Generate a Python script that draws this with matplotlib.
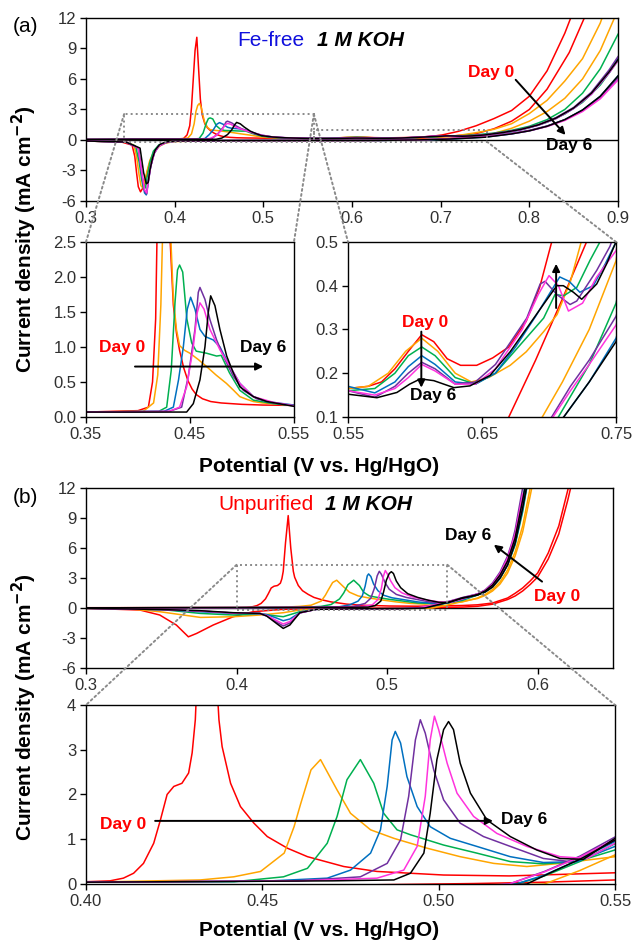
import matplotlib.pyplot as plt
from matplotlib.patches import Rectangle, ConnectionPatch
from matplotlib.ticker import FormatStrFormatter, MultipleLocator

plt.rcParams['font.family'] = ['Liberation Sans', 'DejaVu Sans']
plt.rcParams['axes.unicode_minus'] = False

day_names = ['Day 0', 'Day 1', 'Day 2', 'Day 3', 'Day 4', 'Day 5', 'Day 6']
day_colors = ['#FF0000', '#FFA500', '#00B050', '#0070C0', '#7030A0', '#FF33DD', '#000000']

# ---- (a) Fe-free 1 M KOH: (potential V, current mA cm-2)
ff_an_d0 = [(0.30, 0.05), (0.35, 0.07), (0.40, 0.09), (0.410, 0.14), (0.414, 0.5), (0.417, 1.4),
            (0.419, 3.2), (0.421, 6.0), (0.423, 8.8), (0.425, 10.1), (0.427, 7.0), (0.429, 4.0),
            (0.431, 2.5), (0.434, 1.6), (0.437, 1.2), (0.440, 0.95), (0.444, 0.7), (0.448, 0.52),
            (0.452, 0.4), (0.456, 0.32), (0.462, 0.26), (0.470, 0.22), (0.480, 0.2), (0.50, 0.18),
            (0.52, 0.17), (0.55, 0.165), (0.565, 0.17), (0.575, 0.18), (0.585, 0.21), (0.595, 0.25),
            (0.605, 0.288), (0.614, 0.272), (0.624, 0.233), (0.634, 0.218), (0.646, 0.218),
            (0.658, 0.235), (0.670, 0.26), (0.683, 0.319), (0.693, 0.396), (0.702, 0.5), (0.72, 0.85),
            (0.74, 1.4), (0.76, 2.1), (0.78, 2.9), (0.80, 4.3), (0.82, 6.8), (0.84, 10.5), (0.86, 15.0)]
ff_ca_d0 = [(0.87, 14.2), (0.862, 12.0), (0.845, 8.6), (0.82, 5.0), (0.80, 3.0), (0.78, 1.85),
            (0.76, 1.1), (0.74, 0.63), (0.728, 0.5), (0.71, 0.37), (0.69, 0.23), (0.67, 0.1),
            (0.655, 0.0), (0.62, -0.04), (0.58, -0.05), (0.50, -0.06), (0.42, -0.08), (0.395, -0.15),
            (0.385, -0.4), (0.378, -1.0), (0.372, -2.2), (0.368, -3.5), (0.365, -4.6), (0.3615, -5.1),
            (0.359, -4.6), (0.357, -3.2), (0.355, -1.6), (0.352, -0.5), (0.34, -0.2), (0.30, -0.1)]

ff_an_d1 = [(0.30, 0.05), (0.35, 0.07), (0.405, 0.08), (0.415, 0.2), (0.419, 0.6), (0.422, 1.6),
            (0.424, 2.8), (0.426, 3.4), (0.428, 3.6), (0.430, 3.2), (0.432, 2.4), (0.434, 1.7),
            (0.437, 1.25), (0.440, 1.02), (0.445, 0.95), (0.450, 0.91), (0.458, 0.82), (0.466, 0.72),
            (0.475, 0.6), (0.485, 0.48), (0.492, 0.38), (0.498, 0.29), (0.505, 0.25), (0.511, 0.22),
            (0.52, 0.2), (0.55, 0.165), (0.565, 0.17), (0.58, 0.2), (0.593, 0.25), (0.605, 0.28),
            (0.617, 0.25), (0.63, 0.2), (0.642, 0.18), (0.655, 0.19), (0.671, 0.218), (0.683, 0.249),
            (0.696, 0.295), (0.706, 0.334), (0.716, 0.41), (0.724, 0.5), (0.74, 0.72), (0.76, 1.05),
            (0.78, 1.6), (0.80, 2.6), (0.82, 3.9), (0.84, 5.8), (0.86, 8.0), (0.88, 11.5), (0.90, 16.5)]
ff_ca_d1 = [(0.90, 13.0), (0.896, 12.0), (0.88, 8.8), (0.86, 6.0), (0.84, 4.1), (0.82, 2.8),
            (0.80, 1.85), (0.78, 1.15), (0.76, 0.65), (0.75, 0.457), (0.73, 0.3), (0.71, 0.18),
            (0.695, 0.1), (0.68, 0.04), (0.66, 0.0), (0.62, -0.03), (0.55, -0.05), (0.45, -0.07),
            (0.40, -0.15), (0.39, -0.3), (0.383, -0.6), (0.377, -1.1), (0.372, -2.0), (0.369, -3.0),
            (0.366, -4.2), (0.364, -4.7), (0.362, -4.5), (0.360, -3.5), (0.357, -1.6), (0.354, -0.5),
            (0.345, -0.2), (0.30, -0.1)]

ff_an_d2 = [(0.30, 0.05), (0.35, 0.07), (0.42, 0.08), (0.4276, 0.14), (0.432, 0.67), (0.4356, 1.63),
            (0.438, 2.1), (0.440, 2.17), (0.443, 2.07), (0.447, 1.4), (0.4516, 1.06), (0.456, 0.94),
            (0.466, 0.91), (0.4756, 0.87), (0.48, 0.88), (0.488, 0.63), (0.498, 0.38), (0.511, 0.24),
            (0.53, 0.19), (0.55, 0.16), (0.57, 0.165), (0.585, 0.2), (0.595, 0.24), (0.605, 0.26),
            (0.615, 0.24), (0.63, 0.19), (0.645, 0.175), (0.66, 0.2), (0.68, 0.27), (0.696, 0.326),
            (0.7045, 0.38), (0.711, 0.377), (0.7207, 0.396), (0.7306, 0.458), (0.738, 0.5), (0.76, 0.68),
            (0.78, 0.95), (0.80, 1.35), (0.82, 2.0), (0.84, 3.0), (0.86, 4.6), (0.88, 7.0), (0.90, 10.4)]
ff_ca_d2 = [(0.90, 7.8), (0.88, 5.4), (0.86, 3.7), (0.84, 2.55), (0.82, 1.75), (0.80, 1.2), (0.78, 0.8),
            (0.76, 0.5), (0.75, 0.36), (0.73, 0.22), (0.707, 0.1), (0.69, 0.04), (0.67, 0.0),
            (0.63, -0.04), (0.55, -0.05), (0.45, -0.06), (0.40, -0.12), (0.39, -0.25), (0.382, -0.5),
            (0.376, -1.1), (0.372, -2.2), (0.369, -3.6), (0.367, -4.7), (0.365, -4.8), (0.363, -4.0),
            (0.360, -2.2), (0.356, -0.6), (0.345, -0.2), (0.30, -0.1)]

ff_an_d3 = [(0.30, 0.05), (0.35, 0.07), (0.425, 0.08), (0.434, 0.14), (0.439, 0.53), (0.4436, 1.0),
            (0.4474, 1.54), (0.4506, 1.71), (0.4548, 1.54), (0.4596, 1.25), (0.4644, 1.15),
            (0.4724, 1.1), (0.4788, 1.0), (0.4885, 0.72), (0.498, 0.48), (0.511, 0.29), (0.524, 0.22),
            (0.55, 0.17), (0.57, 0.155), (0.585, 0.18), (0.595, 0.215), (0.605, 0.24), (0.615, 0.22),
            (0.63, 0.18), (0.645, 0.175), (0.66, 0.2), (0.675, 0.26), (0.69, 0.33), (0.70, 0.38),
            (0.708, 0.42), (0.715, 0.41), (0.723, 0.385), (0.733, 0.4), (0.742, 0.45), (0.75, 0.5),
            (0.77, 0.7), (0.79, 1.0), (0.81, 1.45), (0.83, 2.1), (0.85, 3.1), (0.87, 4.5), (0.89, 6.6),
            (0.90, 8.0)]
ff_ca_d3 = [(0.90, 6.3), (0.88, 4.3), (0.86, 2.95), (0.84, 2.0), (0.82, 1.35), (0.80, 0.9), (0.78, 0.6),
            (0.76, 0.38), (0.75, 0.28), (0.73, 0.18), (0.711, 0.1), (0.69, 0.04), (0.67, 0.0),
            (0.63, -0.04), (0.55, -0.05), (0.45, -0.06), (0.40, -0.12), (0.39, -0.25), (0.382, -0.6),
            (0.377, -1.3), (0.373, -2.6), (0.370, -4.2), (0.368, -5.4), (0.366, -5.2), (0.363, -3.5),
            (0.359, -0.8), (0.345, -0.2), (0.30, -0.1)]

ff_an_d4 = [(0.30, 0.05), (0.35, 0.07), (0.43, 0.08), (0.442, 0.14), (0.4484, 0.58), (0.4548, 1.25),
            (0.458, 1.78), (0.4596, 1.85), (0.4644, 1.68), (0.4692, 1.39), (0.4756, 1.1),
            (0.4837, 0.82), (0.4917, 0.58), (0.5013, 0.38), (0.514, 0.26), (0.53, 0.2), (0.55, 0.16),
            (0.57, 0.145), (0.585, 0.17), (0.595, 0.2), (0.605, 0.225), (0.615, 0.21), (0.63, 0.175),
            (0.645, 0.18), (0.66, 0.22), (0.6834, 0.326), (0.6934, 0.404), (0.697, 0.41),
            (0.7058, 0.38), (0.7157, 0.357), (0.7207, 0.365), (0.7356, 0.435), (0.7455, 0.49),
            (0.75, 0.53), (0.77, 0.75), (0.79, 1.05), (0.81, 1.5), (0.83, 2.2), (0.85, 3.2), (0.87, 4.7),
            (0.89, 6.9), (0.90, 8.2)]
ff_ca_d4 = [(0.90, 6.1), (0.88, 4.2), (0.86, 2.9), (0.84, 2.0), (0.82, 1.38), (0.80, 0.95), (0.78, 0.65),
            (0.76, 0.43), (0.75, 0.33), (0.73, 0.23), (0.716, 0.17), (0.702, 0.1), (0.685, 0.04),
            (0.665, 0.0), (0.63, -0.04), (0.55, -0.05), (0.45, -0.06), (0.40, -0.12), (0.39, -0.25),
            (0.382, -0.6), (0.377, -1.3), (0.373, -2.6), (0.370, -4.3), (0.3685, -5.3), (0.366, -5.0),
            (0.363, -3.3), (0.359, -0.8), (0.345, -0.2), (0.30, -0.1)]

ff_an_d5 = [(0.30, 0.05), (0.35, 0.07), (0.43, 0.08), (0.44, 0.14), (0.4468, 0.43), (0.4532, 1.0),
            (0.457, 1.49), (0.4596, 1.63), (0.4635, 1.54), (0.4692, 1.25), (0.4788, 0.96),
            (0.4885, 0.72), (0.498, 0.48), (0.511, 0.29), (0.53, 0.21), (0.55, 0.16), (0.57, 0.15),
            (0.585, 0.165), (0.595, 0.19), (0.605, 0.22), (0.615, 0.205), (0.63, 0.175), (0.645, 0.175),
            (0.66, 0.21), (0.68, 0.3), (0.692, 0.38), (0.70, 0.423), (0.707, 0.4), (0.7145, 0.342),
            (0.725, 0.36), (0.7356, 0.42), (0.75, 0.48), (0.77, 0.72), (0.79, 1.0), (0.81, 1.45),
            (0.83, 2.1), (0.85, 3.1), (0.87, 4.5), (0.89, 6.6), (0.90, 7.8)]
ff_ca_d5 = [(0.90, 5.9), (0.88, 4.05), (0.86, 2.8), (0.84, 1.92), (0.82, 1.32), (0.80, 0.9), (0.78, 0.62),
            (0.76, 0.41), (0.75, 0.31), (0.73, 0.22), (0.716, 0.16), (0.703, 0.1), (0.685, 0.04),
            (0.665, 0.0), (0.63, -0.04), (0.55, -0.05), (0.45, -0.06), (0.40, -0.12), (0.39, -0.25),
            (0.382, -0.6), (0.377, -1.3), (0.373, -2.6), (0.370, -4.2), (0.3685, -5.2), (0.366, -4.9),
            (0.363, -3.2), (0.359, -0.8), (0.345, -0.2), (0.30, -0.1)]

ff_an_d6 = [(0.30, 0.05), (0.35, 0.07), (0.44, 0.07), (0.4468, 0.07), (0.4532, 0.19), (0.4596, 0.53),
            (0.4644, 1.0), (0.4676, 1.49), (0.4699, 1.73), (0.474, 1.59), (0.4788, 1.25),
            (0.4853, 0.87), (0.4917, 0.63), (0.498, 0.43), (0.511, 0.29), (0.524, 0.22), (0.55, 0.152),
            (0.5716, 0.144), (0.5865, 0.156), (0.596, 0.175), (0.604, 0.187), (0.614, 0.183),
            (0.629, 0.167), (0.641, 0.171), (0.656, 0.195), (0.671, 0.249), (0.6834, 0.303),
            (0.6958, 0.357), (0.7058, 0.4), (0.7107, 0.4), (0.7182, 0.385), (0.7244, 0.369),
            (0.7356, 0.404), (0.743, 0.45), (0.75, 0.5), (0.77, 0.73), (0.79, 1.03), (0.81, 1.48),
            (0.83, 2.15), (0.85, 3.15), (0.87, 4.6), (0.89, 6.7), (0.90, 7.9)]
ff_ca_d6 = [(0.90, 6.3), (0.88, 4.3), (0.86, 2.95), (0.84, 2.0), (0.82, 1.35), (0.80, 0.9), (0.78, 0.6),
            (0.76, 0.38), (0.75, 0.272), (0.73, 0.18), (0.711, 0.1), (0.69, 0.04), (0.67, 0.0),
            (0.63, -0.04), (0.55, -0.05), (0.45, -0.06), (0.40, -0.1), (0.39, -0.2), (0.383, -0.45),
            (0.378, -1.0), (0.375, -1.8), (0.372, -3.0), (0.370, -4.2), (0.368, -4.3), (0.365, -3.2),
            (0.361, -0.8), (0.345, -0.2), (0.30, -0.1)]

# ---- (b) Unpurified 1 M KOH
up_an_d0 = [(0.30, 0.03), (0.36, 0.04), (0.40, 0.05), (0.4068, 0.07), (0.4106, 0.13), (0.4135, 0.24),
            (0.4163, 0.46), (0.4192, 0.91), (0.4211, 1.43), (0.423, 2.0), (0.4249, 2.18), (0.4272, 2.25),
            (0.4291, 2.48), (0.4301, 2.93), (0.431, 3.67), (0.4325, 6.5), (0.4343, 9.24), (0.436, 6.0),
            (0.4377, 3.67), (0.4386, 3.07), (0.441, 2.25), (0.4438, 1.73), (0.4476, 1.36), (0.4514, 1.06),
            (0.4571, 0.8), (0.4628, 0.61), (0.4731, 0.39), (0.4825, 0.28), (0.5014, 0.2), (0.52, 0.18),
            (0.55, 0.25), (0.56, 0.32), (0.57, 0.5), (0.58, 1.0), (0.585, 1.47), (0.59, 2.0), (0.595, 2.7),
            (0.60, 3.5), (0.607, 5.5), (0.614, 8.2), (0.62, 11.8), (0.625, 15.0)]
up_ca_d0 = [(0.625, 14.0), (0.62, 10.8), (0.614, 7.4), (0.607, 4.9), (0.60, 3.1), (0.595, 2.35),
            (0.59, 1.7), (0.585, 1.2), (0.58, 0.85), (0.57, 0.38), (0.56, 0.17), (0.55, 0.09), (0.53, 0.04),
            (0.51, 0.01), (0.48, -0.02), (0.464, -0.03), (0.431, -0.13), (0.411, -0.37), (0.3978, -0.87),
            (0.3845, -1.7), (0.3735, -2.54), (0.368, -2.88), (0.36, -1.7), (0.349, -0.7), (0.3358, -0.2),
            (0.30, -0.03)]

up_an_d1 = [(0.30, 0.02), (0.40, 0.04), (0.4324, 0.09), (0.4419, 0.16), (0.4495, 0.28), (0.4562, 0.69),
            (0.459, 1.28), (0.4609, 1.8), (0.4638, 2.55), (0.4665, 2.78), (0.4712, 2.1), (0.475, 1.58),
            (0.4807, 1.21), (0.4873, 1.02), (0.4967, 0.8), (0.5061, 0.61), (0.5156, 0.46), (0.525, 0.39),
            (0.5344, 0.46), (0.55, 0.61), (0.56, 1.0), (0.565, 1.35), (0.57, 1.85), (0.575, 2.6),
            (0.58, 3.8), (0.585, 5.6), (0.59, 8.2), (0.595, 12.0), (0.60, 16.0)]
up_ca_d1 = [(0.60, 15.0), (0.595, 11.2), (0.59, 7.6), (0.585, 5.2), (0.58, 3.5), (0.575, 2.4), (0.57, 1.7),
            (0.565, 1.25), (0.56, 0.95), (0.55, 0.65), (0.54, 0.3), (0.53, 0.0), (0.51, -0.06),
            (0.48, -0.08), (0.453, -0.12), (0.442, -0.2), (0.431, -0.47), (0.4155, -0.7), (0.398, -0.87),
            (0.376, -0.94), (0.349, -0.37), (0.33, -0.1), (0.30, -0.03)]

up_an_d2 = [(0.30, 0.02), (0.40, 0.04), (0.442, 0.05), (0.456, 0.16), (0.4628, 0.35), (0.4684, 0.91),
            (0.4712, 1.51), (0.474, 2.33), (0.4778, 2.78), (0.4816, 2.25), (0.4844, 1.58), (0.4882, 1.21),
            (0.492, 1.1), (0.5014, 0.87), (0.5108, 0.69), (0.5203, 0.5), (0.5297, 0.45), (0.5392, 0.5),
            (0.55, 0.76), (0.56, 1.3), (0.565, 1.65), (0.57, 2.2), (0.575, 3.1), (0.58, 4.5), (0.585, 6.7),
            (0.59, 10.2), (0.595, 14.5)]
up_ca_d2 = [(0.595, 14.0), (0.59, 9.6), (0.585, 6.3), (0.58, 4.3), (0.575, 2.95), (0.57, 2.1), (0.565, 1.6),
            (0.56, 1.3), (0.55, 0.9), (0.54, 0.5), (0.53, 0.18), (0.522, 0.0), (0.51, -0.06), (0.48, -0.08),
            (0.453, -0.13), (0.442, -0.37), (0.431, -0.87), (0.4155, -0.6), (0.398, -0.7), (0.376, -0.54),
            (0.3535, -0.2), (0.33, -0.08), (0.30, -0.03)]

up_an_d3 = [(0.30, 0.02), (0.40, 0.04), (0.45, 0.06), (0.4684, 0.13), (0.475, 0.31), (0.4807, 0.69),
            (0.4835, 1.21), (0.4854, 2.18), (0.4868, 3.22), (0.4877, 3.41), (0.4892, 3.15), (0.491, 2.4),
            (0.4939, 1.73), (0.4976, 1.28), (0.5033, 1.02), (0.5108, 0.84), (0.5203, 0.61), (0.5297, 0.48),
            (0.5392, 0.5), (0.55, 0.84), (0.56, 1.35), (0.565, 1.7), (0.57, 2.3), (0.575, 3.3), (0.58, 4.7),
            (0.585, 7.0), (0.59, 10.8), (0.595, 15.0)]
up_ca_d3 = [(0.595, 14.0), (0.59, 9.8), (0.585, 6.4), (0.58, 4.3), (0.575, 3.0), (0.57, 2.1), (0.565, 1.6),
            (0.56, 1.3), (0.55, 0.95), (0.54, 0.55), (0.53, 0.2), (0.522, 0.0), (0.51, -0.06), (0.48, -0.08),
            (0.453, -0.13), (0.442, -0.47), (0.4354, -1.1), (0.431, -1.27), (0.4265, -1.0), (0.42, -0.65),
            (0.4155, -0.54), (0.398, -0.54), (0.376, -0.37), (0.35, -0.15), (0.30, -0.03)]

up_an_d4 = [(0.30, 0.02), (0.40, 0.04), (0.46, 0.07), (0.4778, 0.16), (0.4854, 0.46), (0.4892, 0.99),
            (0.4915, 1.96), (0.4934, 3.22), (0.4948, 3.67), (0.4962, 3.37), (0.4986, 2.55), (0.5014, 1.88),
            (0.5061, 1.36), (0.5127, 1.06), (0.5203, 0.84), (0.5297, 0.57), (0.5373, 0.5), (0.55, 0.99),
            (0.56, 1.4), (0.565, 1.8), (0.57, 2.5), (0.575, 3.6), (0.58, 5.2), (0.583, 6.6), (0.585, 7.8),
            (0.59, 12.0)]
up_ca_d4 = [(0.59, 11.0), (0.585, 7.3), (0.58, 4.8), (0.575, 3.3), (0.57, 2.3), (0.565, 1.75), (0.56, 1.4),
            (0.55, 1.05), (0.54, 0.62), (0.53, 0.28), (0.52, 0.0), (0.51, -0.06), (0.48, -0.08),
            (0.453, -0.13), (0.442, -0.5), (0.4354, -1.5), (0.431, -1.8), (0.4265, -1.4), (0.42, -0.8),
            (0.4155, -0.55), (0.398, -0.5), (0.376, -0.3), (0.35, -0.15), (0.30, -0.03)]

up_an_d5 = [(0.30, 0.02), (0.40, 0.04), (0.46, 0.07), (0.4825, 0.13), (0.4901, 0.31), (0.4939, 0.84),
            (0.4962, 1.96), (0.4976, 3.22), (0.4988, 3.75), (0.50, 3.45), (0.5024, 2.7), (0.5052, 2.03),
            (0.5099, 1.51), (0.5165, 1.13), (0.525, 0.84), (0.5344, 0.61), (0.542, 0.57), (0.55, 0.91),
            (0.56, 1.38), (0.565, 1.75), (0.57, 2.4), (0.575, 3.45), (0.58, 5.0), (0.585, 7.4), (0.59, 11.4)]
up_ca_d5 = [(0.59, 10.6), (0.585, 7.0), (0.58, 4.6), (0.575, 3.2), (0.57, 2.25), (0.565, 1.7), (0.56, 1.37),
            (0.55, 1.0), (0.54, 0.6), (0.53, 0.27), (0.52, 0.0), (0.51, -0.06), (0.48, -0.08),
            (0.453, -0.13), (0.442, -0.48), (0.4354, -1.35), (0.431, -1.6), (0.4265, -1.25), (0.42, -0.75),
            (0.4155, -0.55), (0.398, -0.5), (0.376, -0.3), (0.35, -0.15), (0.30, -0.03)]

up_an_d6 = [(0.30, 0.02), (0.40, 0.04), (0.47, 0.07), (0.4873, 0.09), (0.492, 0.24), (0.4958, 0.69),
            (0.4976, 1.58), (0.4995, 2.78), (0.5014, 3.45), (0.5028, 3.63), (0.5042, 3.45), (0.5061, 2.7),
            (0.509, 2.03), (0.5137, 1.43), (0.5203, 1.06), (0.5278, 0.76), (0.5344, 0.57), (0.541, 0.55),
            (0.55, 1.02), (0.555, 1.15), (0.56, 1.35), (0.565, 1.7), (0.57, 2.3), (0.575, 3.3), (0.58, 4.7),
            (0.585, 7.0), (0.59, 10.8), (0.595, 15.0)]
up_ca_d6 = [(0.595, 14.0), (0.59, 10.0), (0.585, 6.5), (0.58, 4.3), (0.575, 3.0), (0.57, 2.1), (0.565, 1.6),
            (0.56, 1.3), (0.55, 0.98), (0.54, 0.55), (0.533, 0.3), (0.525, 0.0), (0.51, -0.06),
            (0.48, -0.08), (0.453, -0.13), (0.442, -0.47), (0.4354, -1.7), (0.431, -2.04), (0.4265, -1.54),
            (0.42, -0.8), (0.4155, -0.54), (0.398, -0.47), (0.376, -0.27), (0.35, -0.15), (0.30, -0.03)]

ff_anodic = [ff_an_d0, ff_an_d1, ff_an_d2, ff_an_d3, ff_an_d4, ff_an_d5, ff_an_d6]
ff_cathodic = [ff_ca_d0, ff_ca_d1, ff_ca_d2, ff_ca_d3, ff_ca_d4, ff_ca_d5, ff_ca_d6]
up_anodic = [up_an_d0, up_an_d1, up_an_d2, up_an_d3, up_an_d4, up_an_d5, up_an_d6]
up_cathodic = [up_ca_d0, up_ca_d1, up_ca_d2, up_ca_d3, up_ca_d4, up_ca_d5, up_ca_d6]

tick_col = '#303030'
dot_col = '#8a8a8a'
dot_ls = (0, (1, 1.6))

fig = plt.figure(figsize=(6.36, 9.41), dpi=100)
ax_a = fig.add_axes([0.1352, 0.7864, 0.8365, 0.1945])
ax_a1 = fig.add_axes([0.1352, 0.5569, 0.3270, 0.1860])
ax_a2 = fig.add_axes([0.5472, 0.5569, 0.4214, 0.1860])
ax_b = fig.add_axes([0.1352, 0.2901, 0.8286, 0.1913])
ax_b1 = fig.add_axes([0.1352, 0.0606, 0.8318, 0.1902])


def draw_cv(ax, anodic, cathodic):
    for an, ca, c in zip(anodic, cathodic, day_colors):
        for pts in (an, ca):
            x, y = zip(*pts)
            ax.plot(x, y, color=c, lw=1.1, solid_joinstyle='round')


def style(ax, xlim, ylim, xticks, ystep, xfmt, yfmt):
    ax.set_xlim(*xlim)
    ax.set_ylim(*ylim)
    ax.set_xticks(xticks)
    ax.yaxis.set_major_locator(MultipleLocator(ystep))
    ax.xaxis.set_major_formatter(FormatStrFormatter(xfmt))
    ax.yaxis.set_major_formatter(FormatStrFormatter(yfmt))
    ax.tick_params(direction='out', length=4, width=1, labelsize=12, labelcolor=tick_col, pad=3)
    for s in ax.spines.values():
        s.set_linewidth(1.0)


for ax in (ax_a, ax_a1, ax_a2):
    draw_cv(ax, ff_anodic, ff_cathodic)
for ax in (ax_b, ax_b1):
    draw_cv(ax, up_anodic, up_cathodic)
for ax in (ax_a, ax_b):
    ax.axhline(0, color='k', lw=1.0, zorder=1)

style(ax_a, (0.3, 0.9), (-6, 12), [0.3, 0.4, 0.5, 0.6, 0.7, 0.8, 0.9], 3, '%.1f', '%d')
style(ax_a1, (0.35, 0.55), (0, 2.5), [0.35, 0.45, 0.55], 0.5, '%.2f', '%.1f')
style(ax_a2, (0.55, 0.75), (0.1, 0.5), [0.55, 0.65, 0.75], 0.1, '%.2f', '%.1f')
style(ax_b, (0.3, 0.65), (-6, 12), [0.3, 0.4, 0.5, 0.6], 3, '%.1f', '%d')
style(ax_b1, (0.40, 0.55), (0, 4), [0.40, 0.45, 0.50, 0.55], 1, '%.2f', '%d')

# zoom boxes and connectors
box_a1 = (0.343, 0.557, -0.15, 2.55)
box_a2 = (0.557, 0.752, -0.15, 1.0)
box_b1 = (0.40, 0.54, -0.2, 4.32)
for ax, (x0, x1, y0, y1) in ((ax_a, box_a1), (ax_a, box_a2), (ax_b, box_b1)):
    ax.add_patch(Rectangle((x0, y0), x1 - x0, y1 - y0, fill=False, ec=dot_col, lw=1.4, ls=dot_ls, zorder=5))

links = [(ax_a, (box_a1[0], box_a1[3]), ax_a1, (0, 1)),
         (ax_a, (box_a1[1], box_a1[3]), ax_a1, (1, 1)),
         (ax_a, (box_a1[1], box_a1[3]), ax_a2, (0, 1)),
         (ax_a, (box_a2[1], box_a2[2]), ax_a2, (1, 1)),
         (ax_b, (box_b1[0], box_b1[3]), ax_b1, (0, 1)),
         (ax_b, (box_b1[1], box_b1[3]), ax_b1, (1, 1))]
for axA, pA, axB, pB in links:
    con = ConnectionPatch(xyA=pA, coordsA='data', axesA=axA, xyB=pB, coordsB='axes fraction',
                          axesB=axB, color=dot_col, lw=1.4, ls=dot_ls)
    fig.add_artist(con)

arrow = dict(arrowstyle='-|>', color='k', lw=1.4, mutation_scale=11, shrinkA=0, shrinkB=0)
lab = dict(fontsize=12.5, fontweight='bold', ha='center', va='center')

# panel (a) annotations
ax_a.text(0.471, 9.8, 'Fe-free', color='#1010DD', fontsize=15, ha='left', va='center')
ax_a.text(0.560, 9.8, '1 M KOH', color='k', fontsize=15, fontweight='bold', fontstyle='italic',
          ha='left', va='center')
ax_a.annotate('', xy=(0.8408, 0.5), xytext=(0.7846, 5.92), arrowprops=arrow)
ax_a.text(0.7566, 6.65, day_names[0], color=day_colors[0], **lab)
ax_a.text(0.8446, -0.55, day_names[6], color=day_colors[6], **lab)

ax_a1.annotate('', xy=(0.5205, 0.72), xytext=(0.3971, 0.72), arrowprops=arrow)
ax_a1.text(0.385, 0.985, day_names[0], color=day_colors[0], **lab)
ax_a1.text(0.5205, 0.995, day_names[6], color=day_colors[6], **lab)

ax_a2.annotate('', xy=(0.6047, 0.167), xytext=(0.6047, 0.295), arrowprops=arrow)
ax_a2.annotate('', xy=(0.7053, 0.45), xytext=(0.7053, 0.349), arrowprops=arrow)
ax_a2.text(0.6076, 0.317, day_names[0], color=day_colors[0], **lab)
ax_a2.text(0.6134, 0.15, day_names[6], color=day_colors[6], **lab)

# panel (b) annotations
ax_b.text(0.3878, 10.35, 'Unpurified', color='#FF0000', fontsize=15, ha='left', va='center')
ax_b.text(0.4586, 10.35, '1 M KOH', color='k', fontsize=15, fontweight='bold', fontstyle='italic',
          ha='left', va='center')
ax_b.annotate('', xy=(0.5709, 6.33), xytext=(0.6029, 2.64), arrowprops=arrow)
ax_b.text(0.554, 7.23, day_names[6], color=day_colors[6], **lab)
ax_b.text(0.6128, 1.2, day_names[0], color=day_colors[0], **lab)

ax_b1.annotate('', xy=(0.5154, 1.41), xytext=(0.4196, 1.41), arrowprops=arrow)
ax_b1.text(0.4106, 1.34, day_names[0], color=day_colors[0], **lab)
ax_b1.text(0.5243, 1.45, day_names[6], color=day_colors[6], **lab)

# axis titles and panel letters
ylab = 'Current density (mA cm$^{\\mathbf{-2}}$)'
fig.text(0.039, 0.746, ylab, rotation=90, fontsize=15, fontweight='bold', ha='center', va='center')
fig.text(0.039, 0.2487, ylab, rotation=90, fontsize=15, fontweight='bold', ha='center', va='center')
fig.text(0.5016, 1 - 467 / 941, 'Potential (V vs. Hg/HgO)', fontsize=15, fontweight='bold',
         ha='center', va='center')
fig.text(0.5016, 1 - 930 / 941, 'Potential (V vs. Hg/HgO)', fontsize=15, fontweight='bold',
         ha='center', va='center')
fig.text(0.02, 1 - 27 / 941, '(a)', fontsize=15, ha='left', va='center')
fig.text(0.02, 1 - 498 / 941, '(b)', fontsize=15, ha='left', va='center')

fig.savefig('out.png', dpi=100)
